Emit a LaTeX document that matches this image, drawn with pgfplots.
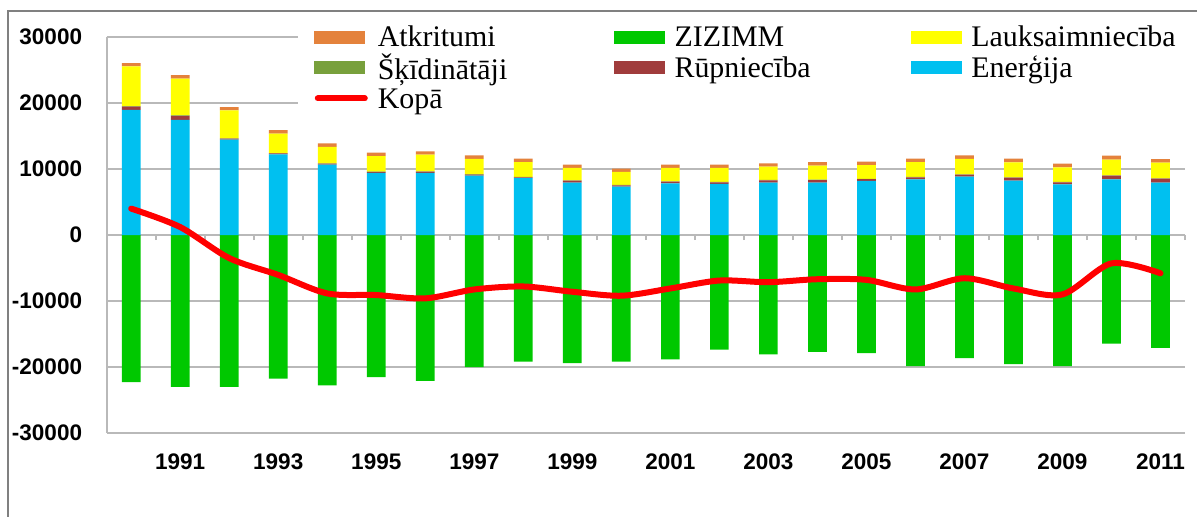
\documentclass[border=0pt]{standalone}
\usepackage{pgfplots}
\usepackage{pgfplotstable}
\pgfplotsset{compat=1.18}
\usepackage{fontspec}
\setmainfont{Liberation Serif}
\newfontfamily\arial{Liberation Sans}

\definecolor{energ}{RGB}{0,192,240}
\definecolor{rupn}{RGB}{160,60,60}
\definecolor{skid}{RGB}{120,160,60}
\definecolor{lauks}{RGB}{255,255,0}
\definecolor{zizimm}{RGB}{0,200,0}
\definecolor{atkr}{RGB}{228,130,60}
\definecolor{kopa}{RGB}{255,0,0}
\definecolor{gridc}{RGB}{185,185,185}

% i = year - 1990
\pgfplotstableread{
i E R S L A Z K
0 18950 500 60 6030 500 -22300 4000
1 17450 600 60 5580 550 -23000 1200
2 14450 150 60 4220 500 -23000 -3500
3 12200 150 60 2965 500 -21750 -6050
4 10650 150 60 2510 500 -22800 -8850
5 9400 150 60 2360 500 -21550 -9100
6 9400 200 60 2510 500 -22100 -9600
7 9000 150 60 2310 550 -20000 -8250
8 8600 150 60 2220 550 -19200 -7800
9 7930 300 60 1870 500 -19400 -8600
10 7320 200 60 1970 500 -19200 -9200
11 7830 250 60 2020 500 -18850 -8100
12 7730 250 60 2120 500 -17350 -6900
13 7930 350 60 2020 500 -18100 -7150
14 7930 400 60 2120 550 -17700 -6700
15 8200 250 60 2070 550 -17900 -6800
16 8430 300 60 2270 500 -19850 -8250
17 8840 300 60 2320 550 -18650 -6550
18 8230 450 60 2270 550 -19550 -8100
19 7680 300 60 2220 550 -19850 -9000
20 8430 550 60 2370 600 -16450 -4300
21 7930 600 60 2370 550 -17100 -5800
}\data

\pgfplotsset{
  base/.style={scale only axis, width=539.15bp, height=198bp,
    at={(53.35bp,42bp)}, anchor=south west,
    xmin=-0.5, xmax=21.5, ymin=-30000, ymax=30000},
  barleg/.style={legend image code/.code={\fill[#1] (0bp,-3bp) rectangle (25bp,3bp);}},
}
\newcommand\lt[1]{\makebox[113bp][l]{\rule[-4bp]{0pt}{15.25bp}#1}}

\begin{document}
\begin{tikzpicture}
\useasboundingbox (0,0) rectangle (598.5bp,258.5bp);
\draw[gray, line width=1bp] (4bp,0) -- (4bp,253bp) -- (598.5bp,253bp);

% grid, labels, ZIZIMM
\begin{axis}[base,
  axis line style={draw=none},
  ytick={-30000,-20000,-10000,0,10000,20000,30000},
  ymajorgrids, grid style={gridc, line width=1bp},
  scaled y ticks=false,
  /pgf/number format/.cd, 1000 sep={}, assume math mode=true, /pgfplots/.cd,
  ticklabel style={font=\arial\bfseries\fontsize{11.3}{13}\selectfont},
  yticklabel style={xshift=-8.8bp},
  xticklabel style={yshift=-7bp},
  major tick length=0pt,
  xtick={1,3,5,7,9,11,13,15,17,19,21},
  xticklabels={1991,1993,1995,1997,1999,2001,2003,2005,2007,2009,2011},
  extra x ticks={-0.5}, extra x tick labels={}, extra x tick style={grid=major},
  ybar, bar width=9.35bp, bar shift=0pt,
]
\addplot[fill=zizimm, draw=none] table[x=i, y=Z]{\data};
\end{axis}

% positive stack
\begin{axis}[base, hide axis, ybar stacked, bar width=9.35bp]
\addplot[fill=energ, draw=none] table[x=i, y=E]{\data};
\addplot[fill=rupn, draw=none] table[x=i, y=R]{\data};
\addplot[fill=skid, draw=none] table[x=i, y=S]{\data};
\addplot[fill=lauks, draw=none] table[x=i, y=L]{\data};
\addplot[fill=atkr, draw=none] table[x=i, y=A]{\data};
\end{axis}

% zero-line ticks, total line, legend
\begin{axis}[base,
  axis x line=middle, axis y line=none,
  x axis line style={draw=none},
  xtick={-0.5,0.5,...,21.5}, xticklabels={},
  tick align=outside, major tick length=2.5bp,
  xtick style={gridc, line width=1bp},
  ytick=\empty,
  legend columns=3,
  legend style={at={(rel axis cs:0.1774,1.048)}, anchor=north west,
    draw=none, fill=white, inner xsep=8bp, inner ysep=3bp,
    column sep=5bp, row sep=1.8bp, nodes={inner sep=0pt},
    font=\fontsize{15}{17}\selectfont},
]
\addlegendimage{barleg=atkr}\addlegendentry{\lt{Atkritumi}}
\addlegendimage{barleg=zizimm}\addlegendentry{\lt{ZIZIMM}}
\addlegendimage{barleg=lauks}\addlegendentry{\lt{Lauksaimniecība}}
\addlegendimage{barleg=skid}\addlegendentry{\lt{Šķīdinātāji}}
\addlegendimage{barleg=rupn}\addlegendentry{\lt{Rūpniecība}}
\addlegendimage{barleg=energ}\addlegendentry{\lt{Enerģija}}
\addlegendimage{legend image code/.code={\draw[kopa, line width=3bp, line cap=round] (1.5bp,0) -- (25bp,0);}}
\addlegendentry{\lt{Kopā}}
\addplot[kopa, line width=3bp, smooth, line cap=round, line join=round, forget plot] table[x=i, y=K]{\data};
\end{axis}
\end{tikzpicture}
\end{document}
